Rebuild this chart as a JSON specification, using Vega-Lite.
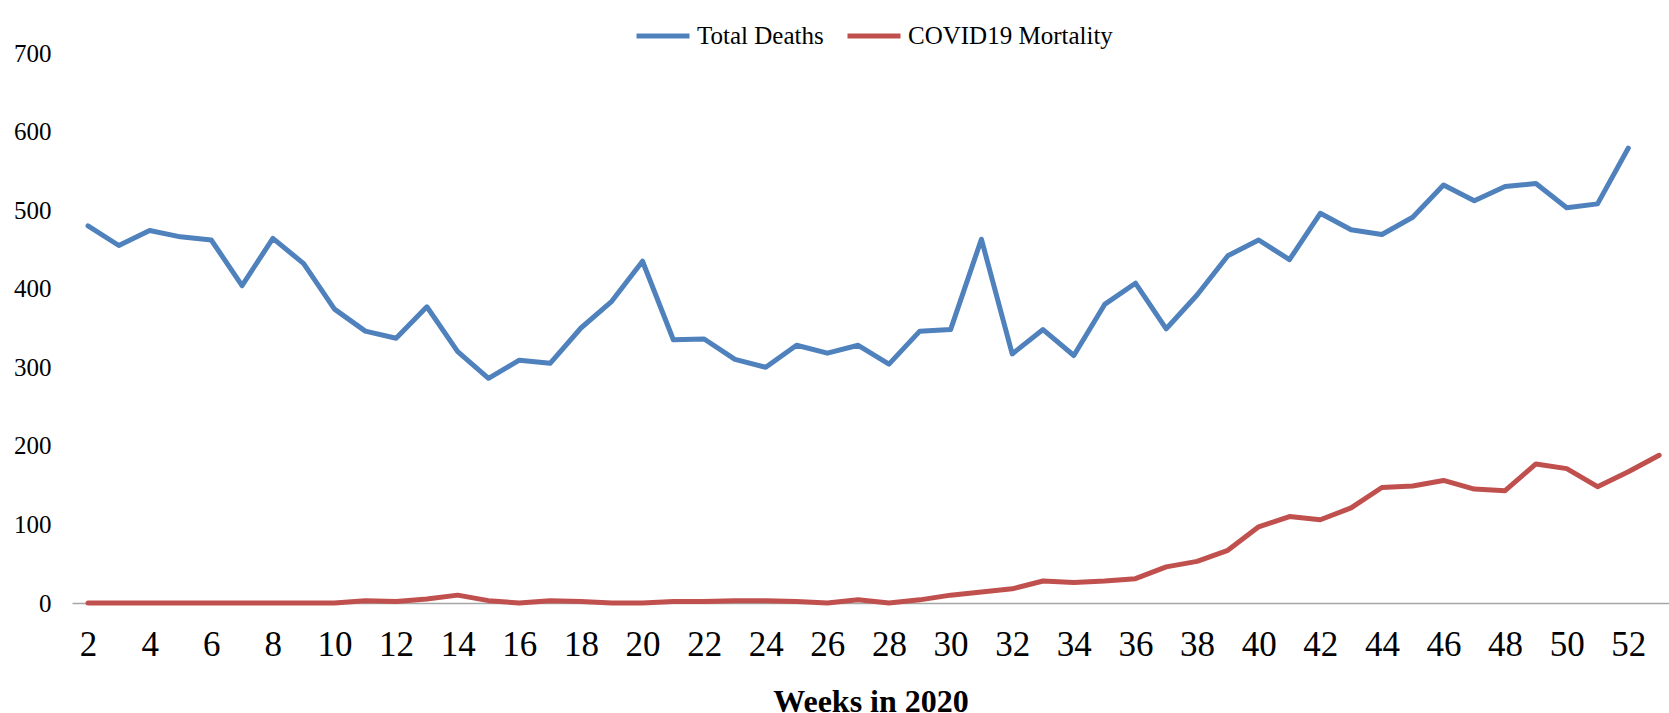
{
  "$schema": "https://vega.github.io/schema/vega-lite/v6.json",
  "width": 1597,
  "height": 550,
  "autosize": {"type": "none"},
  "padding": {"left": 72, "top": 53, "right": 0, "bottom": 110},
  "background": "white",
  "config": {
    "view": {"stroke": null},
    "font": "Liberation Serif"
  },
  "data": {
    "values": [
      {"week": 2, "series": "Total Deaths", "value": 480},
      {"week": 3, "series": "Total Deaths", "value": 455},
      {"week": 4, "series": "Total Deaths", "value": 474},
      {"week": 5, "series": "Total Deaths", "value": 466},
      {"week": 6, "series": "Total Deaths", "value": 462},
      {"week": 7, "series": "Total Deaths", "value": 404},
      {"week": 8, "series": "Total Deaths", "value": 464},
      {"week": 9, "series": "Total Deaths", "value": 432},
      {"week": 10, "series": "Total Deaths", "value": 374},
      {"week": 11, "series": "Total Deaths", "value": 346},
      {"week": 12, "series": "Total Deaths", "value": 337},
      {"week": 13, "series": "Total Deaths", "value": 377},
      {"week": 14, "series": "Total Deaths", "value": 320},
      {"week": 15, "series": "Total Deaths", "value": 286},
      {"week": 16, "series": "Total Deaths", "value": 309},
      {"week": 17, "series": "Total Deaths", "value": 305},
      {"week": 18, "series": "Total Deaths", "value": 350},
      {"week": 19, "series": "Total Deaths", "value": 384},
      {"week": 20, "series": "Total Deaths", "value": 435},
      {"week": 21, "series": "Total Deaths", "value": 335},
      {"week": 22, "series": "Total Deaths", "value": 336},
      {"week": 23, "series": "Total Deaths", "value": 310},
      {"week": 24, "series": "Total Deaths", "value": 300},
      {"week": 25, "series": "Total Deaths", "value": 328},
      {"week": 26, "series": "Total Deaths", "value": 318},
      {"week": 27, "series": "Total Deaths", "value": 328},
      {"week": 28, "series": "Total Deaths", "value": 304},
      {"week": 29, "series": "Total Deaths", "value": 346},
      {"week": 30, "series": "Total Deaths", "value": 348},
      {"week": 31, "series": "Total Deaths", "value": 463},
      {"week": 32, "series": "Total Deaths", "value": 317},
      {"week": 33, "series": "Total Deaths", "value": 348},
      {"week": 34, "series": "Total Deaths", "value": 315},
      {"week": 35, "series": "Total Deaths", "value": 380},
      {"week": 36, "series": "Total Deaths", "value": 407},
      {"week": 37, "series": "Total Deaths", "value": 349},
      {"week": 38, "series": "Total Deaths", "value": 392},
      {"week": 39, "series": "Total Deaths", "value": 442},
      {"week": 40, "series": "Total Deaths", "value": 462},
      {"week": 41, "series": "Total Deaths", "value": 437},
      {"week": 42, "series": "Total Deaths", "value": 496},
      {"week": 43, "series": "Total Deaths", "value": 475},
      {"week": 44, "series": "Total Deaths", "value": 469},
      {"week": 45, "series": "Total Deaths", "value": 491},
      {"week": 46, "series": "Total Deaths", "value": 532},
      {"week": 47, "series": "Total Deaths", "value": 512},
      {"week": 48, "series": "Total Deaths", "value": 530},
      {"week": 49, "series": "Total Deaths", "value": 534},
      {"week": 50, "series": "Total Deaths", "value": 503},
      {"week": 51, "series": "Total Deaths", "value": 508},
      {"week": 52, "series": "Total Deaths", "value": 579},
      {"week": 2, "series": "COVID19 Mortality", "value": 0},
      {"week": 3, "series": "COVID19 Mortality", "value": 0},
      {"week": 4, "series": "COVID19 Mortality", "value": 0},
      {"week": 5, "series": "COVID19 Mortality", "value": 0},
      {"week": 6, "series": "COVID19 Mortality", "value": 0},
      {"week": 7, "series": "COVID19 Mortality", "value": 0},
      {"week": 8, "series": "COVID19 Mortality", "value": 0},
      {"week": 9, "series": "COVID19 Mortality", "value": 0},
      {"week": 10, "series": "COVID19 Mortality", "value": 0},
      {"week": 11, "series": "COVID19 Mortality", "value": 3},
      {"week": 12, "series": "COVID19 Mortality", "value": 2},
      {"week": 13, "series": "COVID19 Mortality", "value": 5},
      {"week": 14, "series": "COVID19 Mortality", "value": 10},
      {"week": 15, "series": "COVID19 Mortality", "value": 3},
      {"week": 16, "series": "COVID19 Mortality", "value": 0},
      {"week": 17, "series": "COVID19 Mortality", "value": 3},
      {"week": 18, "series": "COVID19 Mortality", "value": 2},
      {"week": 19, "series": "COVID19 Mortality", "value": 0},
      {"week": 20, "series": "COVID19 Mortality", "value": 0},
      {"week": 21, "series": "COVID19 Mortality", "value": 2},
      {"week": 22, "series": "COVID19 Mortality", "value": 2},
      {"week": 23, "series": "COVID19 Mortality", "value": 3},
      {"week": 24, "series": "COVID19 Mortality", "value": 3},
      {"week": 25, "series": "COVID19 Mortality", "value": 2},
      {"week": 26, "series": "COVID19 Mortality", "value": 0},
      {"week": 27, "series": "COVID19 Mortality", "value": 4},
      {"week": 28, "series": "COVID19 Mortality", "value": 0},
      {"week": 29, "series": "COVID19 Mortality", "value": 4},
      {"week": 30, "series": "COVID19 Mortality", "value": 10},
      {"week": 31, "series": "COVID19 Mortality", "value": 14},
      {"week": 32, "series": "COVID19 Mortality", "value": 18},
      {"week": 33, "series": "COVID19 Mortality", "value": 28},
      {"week": 34, "series": "COVID19 Mortality", "value": 26},
      {"week": 35, "series": "COVID19 Mortality", "value": 28},
      {"week": 36, "series": "COVID19 Mortality", "value": 31},
      {"week": 37, "series": "COVID19 Mortality", "value": 46},
      {"week": 38, "series": "COVID19 Mortality", "value": 53},
      {"week": 39, "series": "COVID19 Mortality", "value": 67},
      {"week": 40, "series": "COVID19 Mortality", "value": 97},
      {"week": 41, "series": "COVID19 Mortality", "value": 110},
      {"week": 42, "series": "COVID19 Mortality", "value": 106},
      {"week": 43, "series": "COVID19 Mortality", "value": 121},
      {"week": 44, "series": "COVID19 Mortality", "value": 147},
      {"week": 45, "series": "COVID19 Mortality", "value": 149},
      {"week": 46, "series": "COVID19 Mortality", "value": 156},
      {"week": 47, "series": "COVID19 Mortality", "value": 145},
      {"week": 48, "series": "COVID19 Mortality", "value": 143},
      {"week": 49, "series": "COVID19 Mortality", "value": 177},
      {"week": 50, "series": "COVID19 Mortality", "value": 171},
      {"week": 51, "series": "COVID19 Mortality", "value": 148},
      {"week": 52, "series": "COVID19 Mortality", "value": 167},
      {"week": 53, "series": "COVID19 Mortality", "value": 188}
    ]
  },
  "mark": {"type": "line", "strokeWidth": 5, "strokeJoin": "round", "strokeCap": "round"},
  "encoding": {
    "x": {
      "field": "week",
      "type": "quantitative",
      "scale": {"domain": [1.48, 53.32], "nice": false, "zero": false},
      "axis": {
        "title": "Weeks in 2020",
        "titleFont": "Liberation Serif",
        "titleFontSize": 32,
        "titleFontWeight": "bold",
        "titleColor": "black",
        "titlePadding": 24,
        "values": [2,4,6,8,10,12,14,16,18,20,22,24,26,28,30,32,34,36,38,40,42,44,46,48,50,52],
        "labelFont": "Liberation Serif",
        "labelFontSize": 35,
        "labelColor": "black",
        "labelPadding": 24,
        "labelFlush": false,
        "labelOverlap": false,
        "ticks": false,
        "tickSize": 0,
        "grid": false,
        "domainColor": "#A6A6A6",
        "domainWidth": 1.5
      }
    },
    "y": {
      "field": "value",
      "type": "quantitative",
      "scale": {"domain": [0, 700], "nice": false},
      "axis": {
        "title": null,
        "values": [0, 100, 200, 300, 400, 500, 600, 700],
        "labelFont": "Liberation Serif",
        "labelFontSize": 25,
        "labelColor": "black",
        "labelPadding": 21,
        "ticks": false,
        "tickSize": 0,
        "domain": false,
        "grid": false
      }
    },
    "color": {
      "field": "series",
      "type": "nominal",
      "sort": ["Total Deaths", "COVID19 Mortality"],
      "scale": {"domain": ["Total Deaths", "COVID19 Mortality"], "range": ["#4F81BD", "#C0504D"]},
      "legend": {
        "title": null,
        "orient": "none",
        "legendX": 562,
        "legendY": -46,
        "direction": "horizontal",
        "symbolType": "stroke",
        "symbolSize": 2809,
        "symbolStrokeWidth": 5,
        "labelFont": "Liberation Serif",
        "labelFontSize": 25,
        "labelColor": "black",
        "labelLimit": 500,
        "labelOffset": 5,
        "columnPadding": 13
      }
    }
  }
}
